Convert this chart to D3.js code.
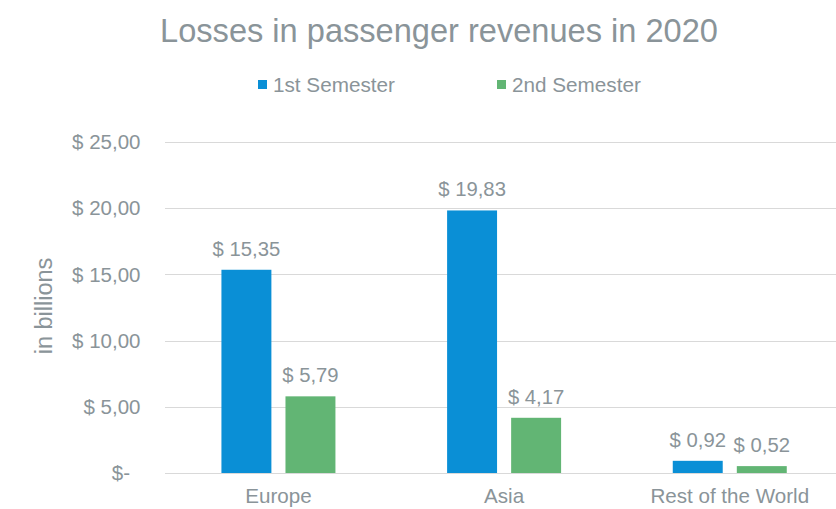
<!DOCTYPE html>
<html>
<head>
<meta charset="utf-8">
<script src="https://cdn.jsdelivr.net/npm/d3@7"></script>
<style>
  html, body { margin: 0; padding: 0; background: #fff; }
  svg text { font-family: "Liberation Sans", Arial, sans-serif; fill: #8a9499; }
</style>
</head>
<body>
<svg id="chart" width="836" height="509"></svg>
<script>
const categories = ["Europe", "Asia", "Rest of the World"];
const seriesNames = ["1st Semester", "2nd Semester"];
const firstSemester = [15.35, 19.83, 0.92];
const secondSemester = [5.79, 4.17, 0.52];
const yTicks = [0, 5, 10, 15, 20, 25];
const title = "Losses in passenger revenues in 2020";
const yTitle = "in billions";
const colors = ["#0a8fd6", "#62b574"];

const seriesValues = [firstSemester, secondSemester];
const svg = d3.select("#chart");

const x0 = d3.scaleBand().domain(categories).range([165.6, 842.6]).paddingInner(0).paddingOuter(0);
const x1 = d3.scaleBand().domain(seriesNames).range([-57, 57]).paddingInner(0.22);
const y = d3.scaleLinear().domain([0, 25]).range([473, 142]);

const fmt = v => v === 0 ? "$-" : "$ " + v.toFixed(2).replace(".", ",");

// gridlines
svg.append("g").selectAll("line").data(yTicks).join("line")
  .attr("x1", 165).attr("x2", 836)
  .attr("y1", d => Math.round(y(d)) + 0.5).attr("y2", d => Math.round(y(d)) + 0.5)
  .attr("stroke", "#d9d9d9").attr("stroke-width", 1);

// y tick labels
svg.append("g").selectAll("text").data(yTicks).join("text")
  .attr("x", d => d === 0 ? 130 : 140.5).attr("y", d => y(d)).attr("dy", "0.35em")
  .attr("text-anchor", "end").attr("font-size", 20.5)
  .text(fmt);

// y title
svg.append("text")
  .attr("transform", "translate(52,306) rotate(-90)")
  .attr("text-anchor", "middle").attr("font-size", 23.5)
  .text(yTitle);

// bars
const groups = svg.append("g").selectAll("g").data(categories).join("g")
  .attr("transform", d => `translate(${x0(d) + x0.bandwidth() / 2},0)`);

groups.each(function(cat, ci) {
  const g = d3.select(this);
  seriesNames.forEach((s, si) => {
    const v = seriesValues[si][ci];
    g.append("rect")
      .attr("x", x1(s)).attr("width", x1.bandwidth())
      .attr("y", y(v)).attr("height", y(0) - y(v))
      .attr("fill", colors[si]);
    g.append("text")
      .attr("x", x1(s) + x1.bandwidth() / 2).attr("y", y(v) - 14)
      .attr("text-anchor", "middle").attr("font-size", 20.3)
      .text(fmt(v));
  });
});

// baseline axis
svg.append("line").attr("x1", 165).attr("x2", 836)
  .attr("y1", Math.round(y(0)) + 0.5).attr("y2", Math.round(y(0)) + 0.5)
  .attr("stroke", "#d9d9d9");

// category labels
svg.append("g").selectAll("text").data(categories).join("text")
  .attr("x", d => x0(d) + x0.bandwidth() / 2).attr("y", 503)
  .attr("text-anchor", "middle").attr("font-size", 20.6)
  .text(d => d);

// title
svg.append("text").attr("x", 439).attr("y", 42)
  .attr("text-anchor", "middle").attr("font-size", 32.6)
  .text(title);

// legend
const legendX = [258, 497];
seriesNames.forEach((s, i) => {
  svg.append("rect").attr("x", legendX[i]).attr("y", 80).attr("width", 9).attr("height", 9).attr("fill", colors[i]);
  svg.append("text").attr("x", legendX[i] + 15).attr("y", 92).attr("font-size", 20.7).text(s);
});
</script>
</body>
</html>
